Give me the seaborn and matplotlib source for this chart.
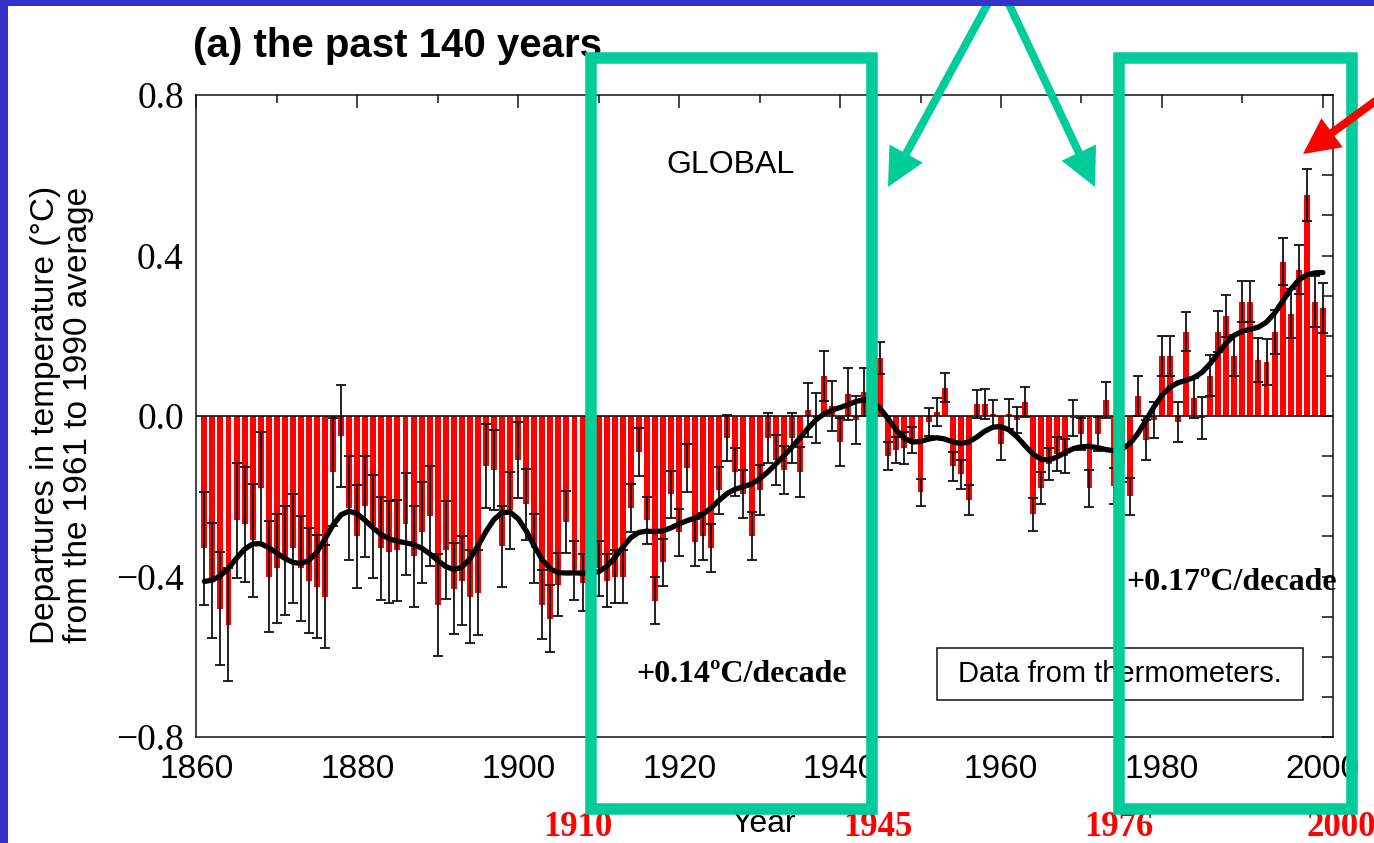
#!/usr/bin/env python3
"""Global temperature departures 1861-2000 (annotated slide version)."""

import math

import matplotlib

matplotlib.use("Agg")
import matplotlib.pyplot as plt
import numpy as np
import pandas as pd
import seaborn as sns
from matplotlib.patches import FancyArrow, Rectangle
from matplotlib.ticker import FuncFormatter, MultipleLocator
from matplotlib.transforms import Affine2D

OUT = "out.png"
W, H = 1374, 843

YEARS = list(range(1861, 2001))

# annual departures (degC, vs 1961-1990)
ANOMALY = [
    -0.33, -0.41, -0.48, -0.52, -0.26, -0.27, -0.31, -0.18, -0.40, -0.38,
    -0.36, -0.33, -0.38, -0.41, -0.425, -0.45, -0.14, -0.05, -0.23, -0.30,
    -0.225, -0.275, -0.33, -0.34, -0.335, -0.27, -0.35, -0.29, -0.25, -0.47,
    -0.335, -0.43, -0.41, -0.45, -0.44, -0.125, -0.135, -0.325, -0.235, -0.11,
    -0.22, -0.33, -0.47, -0.505, -0.42, -0.265, -0.385, -0.415, -0.43, -0.38,
    -0.41, -0.40, -0.40, -0.23, -0.09, -0.26, -0.46, -0.365, -0.195, -0.29,
    -0.13, -0.315, -0.30, -0.33, -0.185, -0.055, -0.14, -0.195, -0.30, -0.185,
    -0.055, -0.11, -0.135, -0.055, -0.14, 0.015, -0.005, 0.10, 0.025, -0.065,
    0.055, -0.01, 0.06, 0.14, 0.145, -0.10, -0.085, -0.08, -0.06, -0.19,
    -0.015, 0.01, 0.07, -0.125, -0.145, -0.21, 0.03, 0.03, 0.005, -0.07,
    0.005, -0.01, 0.035, -0.245, -0.18, -0.12, -0.095, -0.10, -0.005, -0.045,
    -0.18, -0.045, 0.04, -0.175, -0.12, -0.20, 0.05, -0.06, -0.01, 0.15,
    0.15, -0.015, 0.21, 0.045, -0.005, 0.10, 0.21, 0.25, 0.15, 0.285,
    0.285, 0.14, 0.135, 0.21, 0.385, 0.255, 0.365, 0.55, 0.285, 0.27,
]

# half-length of the error bars
ERROR = [
    0.140, 0.143, 0.140, 0.140, 0.143, 0.144, 0.140, 0.141, 0.139, 0.136,
    0.135, 0.135, 0.132, 0.130, 0.128, 0.128, 0.134, 0.128, 0.130, 0.128,
    0.126, 0.128, 0.128, 0.127, 0.125, 0.127, 0.125, 0.125, 0.125, 0.127,
    0.122, 0.114, 0.112, 0.115, 0.107, 0.105, 0.100, 0.100, 0.096, 0.094,
    0.088, 0.085, 0.085, 0.083, 0.079, 0.077, 0.073, 0.072, 0.070, 0.068,
    0.067, 0.065, 0.065, 0.060, 0.060, 0.059, 0.058, 0.058, 0.058, 0.058,
    0.060, 0.059, 0.058, 0.060, 0.058, 0.057, 0.060, 0.060, 0.060, 0.062,
    0.062, 0.062, 0.060, 0.062, 0.062, 0.068, 0.062, 0.062, 0.062, 0.060,
    0.064, 0.060, 0.060, 0.055, 0.040, 0.035, 0.033, 0.040, 0.033, 0.034,
    0.035, 0.036, 0.036, 0.036, 0.036, 0.037, 0.035, 0.037, 0.035, 0.039,
    0.037, 0.033, 0.038, 0.041, 0.040, 0.040, 0.042, 0.042, 0.045, 0.040,
    0.046, 0.042, 0.044, 0.045, 0.045, 0.046, 0.049, 0.050, 0.046, 0.050,
    0.050, 0.049, 0.049, 0.050, 0.052, 0.051, 0.051, 0.052, 0.051, 0.051,
    0.051, 0.055, 0.057, 0.055, 0.058, 0.061, 0.061, 0.065, 0.063, 0.062,
]

TREND_LABELS = ["+0.14\u00baC/decade", "+0.17\u00baC/decade"]
PERIOD_LABELS = ["1910", "1945", "1976", "2000"]

RED = "#FF0000"
GREEN = "#00CC99"
BLUE = "#3333CC"
INK = "#111111"


def binomial_smooth(values, n=21):
    w = np.array([math.comb(n - 1, k) for k in range(n)], dtype=float)
    w /= w.sum()
    padded = np.pad(np.asarray(values, dtype=float), n // 2, mode="reflect")
    return np.convolve(padded, w, mode="valid")


def fmt_y(v, _pos):
    v = round(v, 1)
    if v == 0:
        v = 0.0
    return f"{v:.1f}".replace("-", "\u2212")


def main() -> None:
    sns.set_theme(style="white")
    plt.rcParams["font.family"] = ["Liberation Sans", "DejaVu Sans"]
    plt.rcParams["text.color"] = "black"
    plt.rcParams["xtick.labelcolor"] = "black"
    plt.rcParams["ytick.labelcolor"] = "black"

    fig = plt.figure(figsize=(W / 100, H / 100), dpi=100, facecolor="white")
    ax = fig.add_axes([196.3 / W, 1 - 737 / H, (1333.3 - 196.3) / W, (737 - 95) / H])

    df = pd.DataFrame({"year": YEARS, "anomaly": ANOMALY})
    sns.barplot(
        data=df, x="year", y="anomaly", native_scale=True, color=RED,
        saturation=1, width=0.74, errorbar=None, linewidth=0, ax=ax, zorder=2,
    )
    ax.axhline(0, color=INK, lw=1.2, zorder=2.5)
    ax.errorbar(
        YEARS, ANOMALY, yerr=ERROR, fmt="none", ecolor=INK,
        elinewidth=1.3, capsize=3.4, capthick=1.3, zorder=3,
    )
    sns.lineplot(x=YEARS, y=binomial_smooth(ANOMALY), color="black",
                 linewidth=3.8, ax=ax, zorder=4)

    ax.set_xlim(1860, 2001.3)
    ax.set_ylim(-0.8, 0.8)
    ax.set_xlabel("")
    ax.set_ylabel("")
    ax.set_xticks(range(1860, 2001, 20))
    ax.xaxis.set_minor_locator(MultipleLocator(10))
    ax.set_yticks([-0.8, -0.4, 0.0, 0.4, 0.8])
    ax.yaxis.set_minor_locator(MultipleLocator(0.1))
    ax.yaxis.set_major_formatter(FuncFormatter(fmt_y))
    ax.tick_params(axis="both", which="both", direction="in", top=True,
                   right=True, color=INK, width=1.1)
    ax.tick_params(axis="x", which="major", length=9.4, labelsize=24, pad=12)
    ax.tick_params(axis="x", which="minor", length=5.8)
    ax.tick_params(axis="y", which="both", length=8)
    ax.tick_params(axis="y", which="major", labelsize=27, pad=9,
                   labelfontfamily="Liberation Serif")
    for sp in ax.spines.values():
        sp.set_color(INK)
        sp.set_linewidth(1.1)

    # pixel coordinates measured from the top-left corner
    px = Affine2D().scale(1 / W, -1 / H).translate(0, 1) + fig.transFigure

    fig.text(193, 57, "(a) the past 140 years", transform=px, fontsize=29,
             fontweight="bold", ha="left", va="baseline")
    fig.text(62, 415, "Departures in temperature (\u00b0C)\nfrom the 1961 to 1990 average",
             transform=px, fontsize=24, rotation=90, ha="center", va="center",
             linespacing=1.05, multialignment="center")
    fig.text(764, 832, "Year", transform=px, fontsize=23, ha="center",
             va="baseline", zorder=5)
    fig.text(730, 165, "GLOBAL", transform=px, fontsize=23, ha="center", va="center")

    fig.add_artist(Rectangle((937, 648), 366, 52, transform=px, facecolor="white",
                             edgecolor=INK, lw=1.1, zorder=6))
    fig.text(1120, 674, "Data from thermometers.", transform=px, fontsize=21,
             ha="center", va="center", zorder=7)

    serif_bold = dict(family=["Liberation Serif", "DejaVu Serif"], fontweight="bold")
    fig.text(742, 675, TREND_LABELS[0], transform=px, fontsize=23, ha="center",
             va="center", zorder=7, **serif_bold)
    fig.text(1232, 582, TREND_LABELS[1], transform=px, fontsize=23, ha="center",
             va="center", zorder=7, **serif_bold)

    for (x, ha), lab in zip([(578, "center"), (878, "center"), (1119, "center"),
                             (1306, "left")], PERIOD_LABELS):
        fig.text(x, 836, lab, transform=px, fontsize=25, color=RED, ha=ha,
                 va="baseline", zorder=7, **serif_bold)

    # highlighted periods
    for x0, x1 in [(591, 871.5), (1118.5, 1351.5)]:
        fig.add_artist(Rectangle((x0, 58), x1 - x0, 809 - 58, transform=px,
                                 fill=False, edgecolor=GREEN, lw=8.3,
                                 joinstyle="miter", zorder=10))

    apex = (999, -17)
    for tip in [(888, 187), (1095, 187)]:
        fig.add_artist(FancyArrow(apex[0], apex[1], tip[0] - apex[0], tip[1] - apex[1],
                                  width=8, head_width=38, head_length=38,
                                  length_includes_head=True, color=GREEN,
                                  lw=0, transform=px, zorder=11))
    fig.add_artist(FancyArrow(1415, 72, 1303 - 1415, 154 - 72, width=8,
                              head_width=36, head_length=36,
                              length_includes_head=True, color=RED, lw=0,
                              transform=px, zorder=11))

    # slide frame
    fig.add_artist(Rectangle((0, 0), W, 6, transform=px, color=BLUE, lw=0, zorder=20))
    fig.add_artist(Rectangle((0, 0), 8, H, transform=px, color=BLUE, lw=0, zorder=20))

    fig.savefig(OUT, dpi=100)
    plt.close(fig)


if __name__ == "__main__":
    main()
